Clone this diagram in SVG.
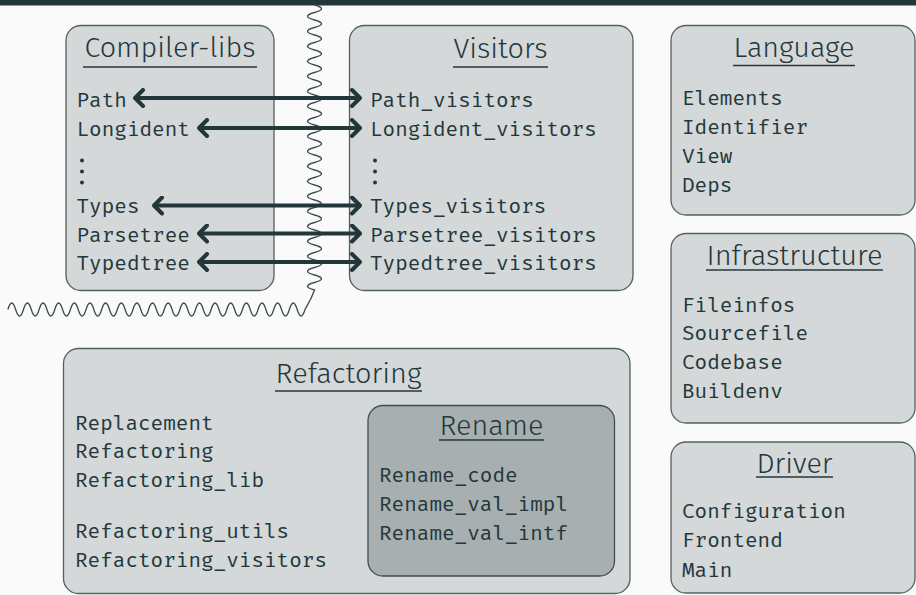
<svg xmlns="http://www.w3.org/2000/svg" width="916" height="595" viewBox="0 0 916 595">
<defs>
<style>
.box{fill:#d4d8d9;stroke:#52605f;stroke-width:1.3}
.inner{fill:#a7afb0;stroke:#3f4d4f;stroke-width:1.3}
.title{font-family:"Fira Sans","Open Sans","DejaVu Sans",sans-serif;font-weight:300;font-size:27.5px;fill:#23373b;text-anchor:middle}
.ul{stroke:#23373b;stroke-width:1.4}
.mono{font-family:"Fira Mono","DejaVu Sans Mono","Liberation Mono",monospace;font-size:21px;fill:#23373b}
.dot{fill:#23373b}
.arr{stroke:#23373b;stroke-width:4;fill:none;marker-start:url(#ah);marker-end:url(#ah)}
.wave{fill:none;stroke:#3c4b4e;stroke-width:1.3}
</style>
<marker id="ah" viewBox="-12 -10 14 20" refX="0" refY="0" markerWidth="14" markerHeight="20" markerUnits="userSpaceOnUse" orient="auto-start-reverse">
<path d="M-8,-8 L0,0 L-8,8" fill="none" stroke="#23373b" stroke-width="4" stroke-linecap="round" stroke-linejoin="round"/>
</marker>
</defs>
<rect x="0" y="0" width="916" height="595" fill="#fafafa"/>
<rect x="0" y="0" width="916" height="5.5" fill="#23373b"/>

<g id="compiler-libs">
<rect class="box" x="66" y="25.5" width="208" height="265" rx="15"/>
<text class="title" x="170" y="57" textLength="171" lengthAdjust="spacingAndGlyphs">Compiler-libs</text>
<line class="ul" x1="83" y1="67" x2="257" y2="67"/>
<text class="mono" x="76.5" y="107">Path</text>
<text class="mono" x="76.5" y="136">Longident</text>
<circle class="dot" cx="82" cy="160.5" r="2"/>
<circle class="dot" cx="82" cy="171.5" r="2"/>
<circle class="dot" cx="82" cy="182.5" r="2"/>
<text class="mono" x="76.5" y="213">Types</text>
<text class="mono" x="76.5" y="242">Parsetree</text>
<text class="mono" x="76.5" y="270">Typedtree</text>
</g>

<g id="visitors">
<rect class="box" x="349.5" y="25.5" width="283.5" height="265" rx="15"/>
<text class="title" x="500.5" y="58" textLength="94" lengthAdjust="spacingAndGlyphs">Visitors</text>
<line class="ul" x1="453" y1="67" x2="548" y2="67"/>
<text class="mono" x="370" y="107">Path_visitors</text>
<text class="mono" x="370" y="136">Longident_visitors</text>
<circle class="dot" cx="375" cy="160.5" r="2"/>
<circle class="dot" cx="375" cy="171.5" r="2"/>
<circle class="dot" cx="375" cy="182.5" r="2"/>
<text class="mono" x="370" y="213">Types_visitors</text>
<text class="mono" x="370" y="242">Parsetree_visitors</text>
<text class="mono" x="370" y="270">Typedtree_visitors</text>
</g>

<g id="language">
<rect class="box" x="671" y="25.5" width="244" height="189.5" rx="15"/>
<text class="title" x="794" y="56.5" textLength="121" lengthAdjust="spacingAndGlyphs">Language</text>
<line class="ul" x1="733" y1="65.5" x2="855" y2="65.5"/>
<text class="mono" x="682" y="105">Elements</text>
<text class="mono" x="682" y="134">Identifier</text>
<text class="mono" x="682" y="163">View</text>
<text class="mono" x="682" y="192">Deps</text>
</g>

<g id="infrastructure">
<rect class="box" x="671" y="233.5" width="244" height="189.5" rx="15"/>
<text class="title" x="794.5" y="265" textLength="176" lengthAdjust="spacingAndGlyphs">Infrastructure</text>
<line class="ul" x1="706" y1="270" x2="883" y2="270"/>
<text class="mono" x="682" y="312">Fileinfos</text>
<text class="mono" x="682" y="340">Sourcefile</text>
<text class="mono" x="682" y="369">Codebase</text>
<text class="mono" x="682" y="398">Buildenv</text>
</g>

<g id="driver">
<rect class="box" x="671" y="442" width="244" height="151" rx="15"/>
<text class="title" x="794.5" y="473" textLength="76" lengthAdjust="spacingAndGlyphs">Driver</text>
<line class="ul" x1="756" y1="477" x2="833" y2="477"/>
<text class="mono" x="682" y="518">Configuration</text>
<text class="mono" x="682" y="547">Frontend</text>
<text class="mono" x="682" y="577">Main</text>
</g>

<g id="refactoring">
<rect class="box" x="63.5" y="348.5" width="566.5" height="245" rx="15"/>
<text class="title" x="348.5" y="383" textLength="146" lengthAdjust="spacingAndGlyphs">Refactoring</text>
<line class="ul" x1="275" y1="391" x2="422" y2="391"/>
<text class="mono" x="75" y="430">Replacement</text>
<text class="mono" x="75" y="458">Refactoring</text>
<text class="mono" x="75" y="487">Refactoring_lib</text>
<text class="mono" x="75" y="538">Refactoring_utils</text>
<text class="mono" x="75" y="567">Refactoring_visitors</text>
</g>

<g id="rename">
<rect class="inner" x="368" y="405.5" width="246.5" height="170.5" rx="15"/>
<text class="title" x="491.5" y="435" textLength="104" lengthAdjust="spacingAndGlyphs">Rename</text>
<line class="ul" x1="439" y1="440" x2="544" y2="440"/>
<text class="mono" x="379" y="482">Rename_code</text>
<text class="mono" x="379" y="511">Rename_val_impl</text>
<text class="mono" x="379" y="540">Rename_val_intf</text>
</g>

<g id="separator">
<path class="wave" d="M314.5,5 q14,3.75 0,7.5 t0,7.5 t0,7.5 t0,7.5 t0,7.5 t0,7.5 t0,7.5 t0,7.5 t0,7.5 t0,7.5 t0,7.5 t0,7.5 t0,7.5 t0,7.5 t0,7.5 t0,7.5 t0,7.5 t0,7.5 t0,7.5 t0,7.5 t0,7.5 t0,7.5 t0,7.5 t0,7.5 t0,7.5 t0,7.5 t0,7.5 t0,7.5 t0,7.5 t0,7.5 t0,7.5 t0,7.5 t0,7.5 t0,7.5 t0,7.5 t0,7.5 t0,7.5 t0,7.5 C311,300 308,304 305,309.5 q-3.91,13 -7.82,0 t-7.82,0 t-7.82,0 t-7.82,0 t-7.82,0 t-7.82,0 t-7.82,0 t-7.82,0 t-7.82,0 t-7.82,0 t-7.82,0 t-7.82,0 t-7.82,0 t-7.82,0 t-7.82,0 t-7.82,0 t-7.82,0 t-7.82,0 t-7.82,0 t-7.82,0 t-7.82,0 t-7.82,0 t-7.82,0 t-7.82,0 t-7.82,0 t-7.82,0 t-7.82,0 t-7.82,0 t-7.82,0 t-7.82,0 t-7.82,0 t-7.82,0 t-7.82,0 t-7.82,0 t-7.82,0 t-7.82,0 t-7.82,0 t-7.82,0"/>
</g>

<g id="connectors">
<line class="arr" x1="135" y1="98" x2="360" y2="98"/>
<line class="arr" x1="199" y1="128" x2="360" y2="128"/>
<line class="arr" x1="154" y1="205.5" x2="360" y2="205.5"/>
<line class="arr" x1="199" y1="233.5" x2="360" y2="233.5"/>
<line class="arr" x1="199" y1="262" x2="360" y2="262"/>
</g>
</svg>
